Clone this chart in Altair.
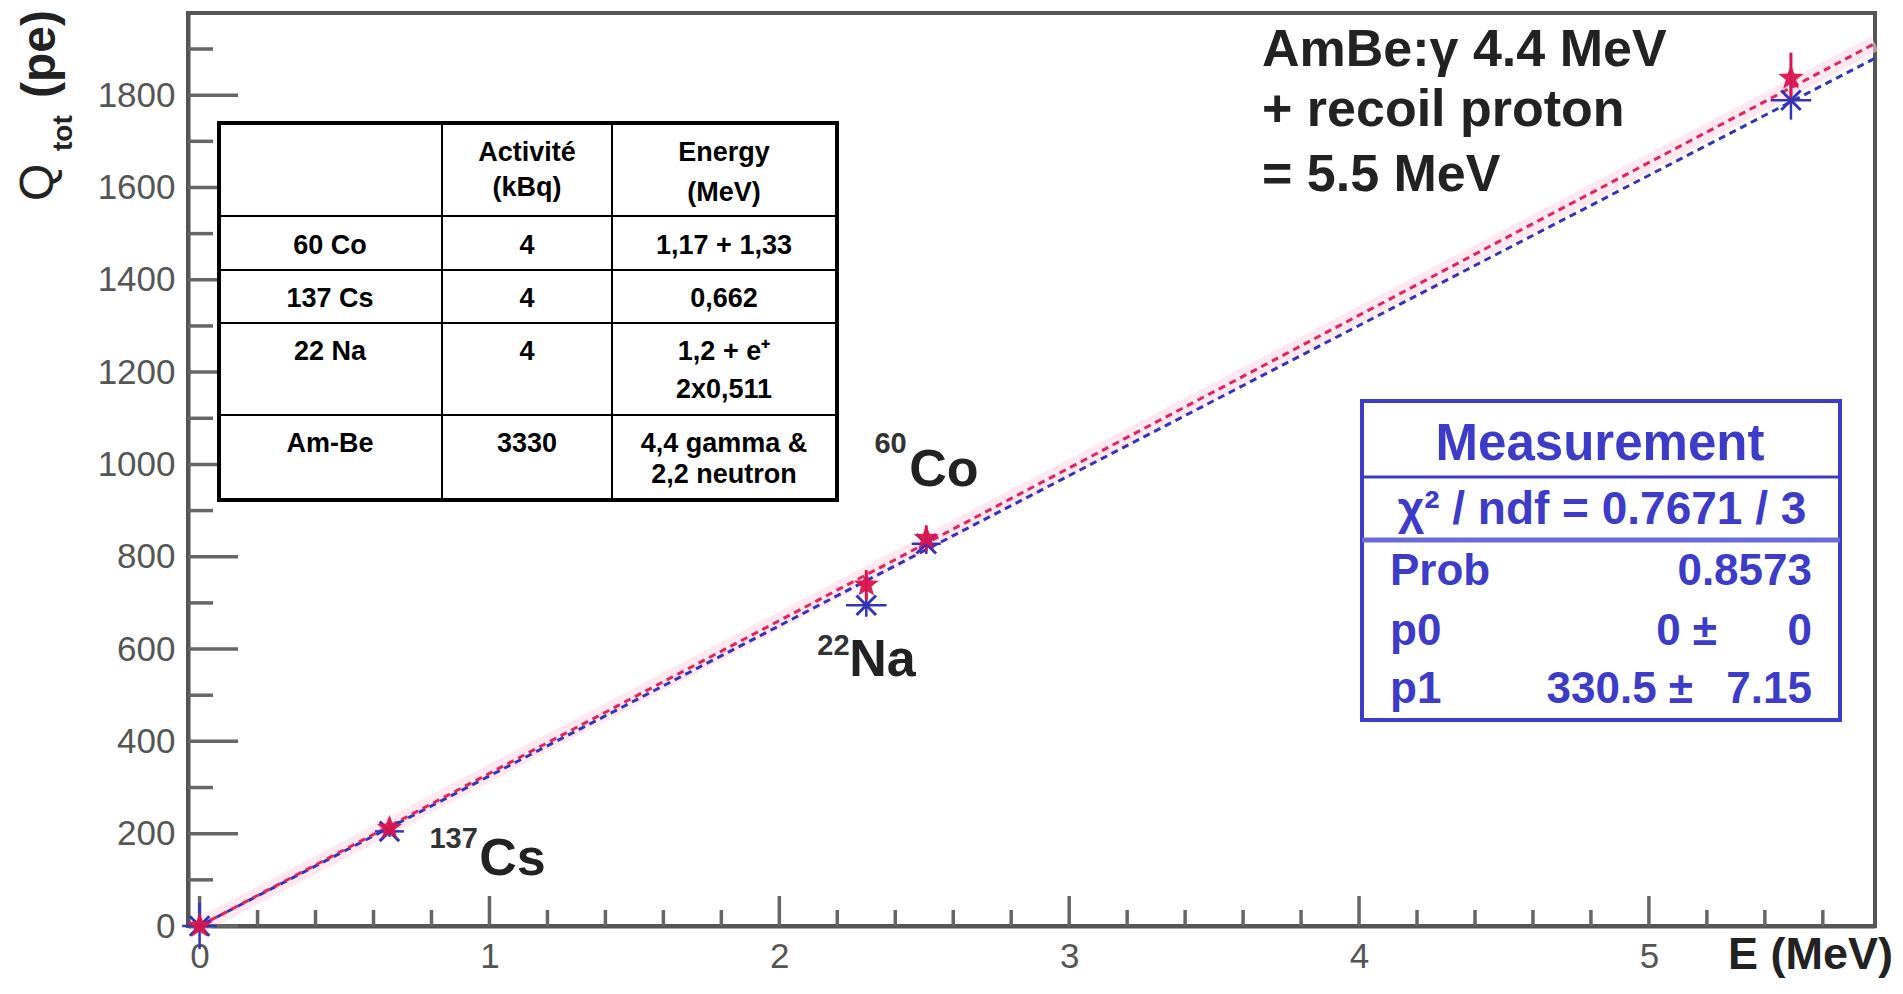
import altair as alt
import pandas as pd

# ---------------- data ----------------
energy_mev = [0.0, 0.655, 2.30, 2.507, 5.49]
q_red = [0, 212, 739, 840, 1837]
q_red_err = [10, 12, 32, 28, 55]
q_blue = [0, 205, 695, 828, 1789]
q_blue_err = [50, 12, 25, 22, 42]
e_blue_err = [0.06, 0.05, 0.07, 0.05, 0.07]

fit_e = [0.0, 5.78]
fit_red_q = [0, 1912]
fit_blue_q = [0, 1880]

x_major = [0, 1, 2, 3, 4, 5]
x_minor = [0.2, 0.4, 0.6, 0.8, 1.2, 1.4, 1.6, 1.8, 2.2, 2.4, 2.6, 2.8,
           3.2, 3.4, 3.6, 3.8, 4.2, 4.4, 4.6, 4.8, 5.2, 5.4, 5.6]
y_major = [0, 200, 400, 600, 800, 1000, 1200, 1400, 1600, 1800]
y_minor = [100, 300, 500, 700, 900, 1100, 1300, 1500, 1700, 1900]

iso_mass = ["137", "22", "60"]
iso_symbol = ["Cs", "Na", "Co"]

table_sources = ["60 Co", "137 Cs", "22 Na", "Am-Be"]
table_activity = ["4", "4", "4", "3330"]
table_energy = [["1,17 + 1,33"], ["0,662"], ["1,2 + e\u207a", "2x0,511"], ["4,4  gamma &", "2,2 neutron"]]
table_head = [["Activit\u00e9", "(kBq)"], ["Energy", "(MeV)"]]

amb_lines = ["AmBe:\u03b3 4.4 MeV", "+ recoil proton", "= 5.5 MeV"]
stat_title = "Measurement"
stat_chi = "\u03c7\u00b2 / ndf = 0.7671 / 3"
stat_names = ["Prob", "p0", "p1"]
stat_values = ["0.8573", "0 \u00b1", "330.5 \u00b1"]
stat_errors = ["", "0", "7.15"]

# ---------------- layout ----------------
FONT = "Liberation Sans"
W, H = 1687, 913
RED = "#d8154f"
BLUE = "#3434b8"
SBLUE = "#3c3cc8"

xs = alt.Scale(domain=[-0.04, 5.78], nice=False, zero=False)
ys = alt.Scale(domain=[0, 1978], nice=False, zero=False)
xaxis = alt.Axis(values=x_major, title=None, grid=False, ticks=False, tickSize=0,
                 labelFontSize=35, labelColor="#555", labelFont=FONT, labelPadding=13,
                 labelFlush=False, domainColor="#555", domainWidth=4, format="d")
yaxis = alt.Axis(values=y_major, title=None, grid=False, ticks=False, tickSize=0,
                 labelFontSize=35, labelColor="#555", labelFont=FONT, labelPadding=13,
                 labelFlush=False, domainColor="#555", domainWidth=4, format="d")

pts = pd.DataFrame({
    "e": energy_mev,
    "qr": q_red,
    "qr_lo": [q - d for q, d in zip(q_red, q_red_err)],
    "qr_hi": [q + d for q, d in zip(q_red, q_red_err)],
    "qb": q_blue,
    "qb_lo": [q - d for q, d in zip(q_blue, q_blue_err)],
    "qb_hi": [q + d for q, d in zip(q_blue, q_blue_err)],
    "eb_lo": [e - d for e, d in zip(energy_mev, e_blue_err)],
    "eb_hi": [e + d for e, d in zip(energy_mev, e_blue_err)],
})
fits = pd.DataFrame({"e": fit_e, "qr": fit_red_q, "qb": fit_blue_q})
one = pd.DataFrame({"k": [0]})

X = lambda f: alt.X(f, type="quantitative", scale=xs, axis=xaxis)
Y = lambda f: alt.Y(f, type="quantitative", scale=ys, axis=yaxis)

layers = []

# faint halo along the red fit
layers.append(alt.Chart(fits).mark_line(color="#ffd6e2", strokeWidth=16, opacity=0.55)
              .encode(x=X("e"), y=Y("qr")))

# inward ticks
layers.append(alt.Chart(pd.DataFrame({"v": y_major})).mark_rule(color="#666", strokeWidth=3.5)
              .encode(y=Y("v"), x=alt.value(0), x2=alt.value(50)))
layers.append(alt.Chart(pd.DataFrame({"v": y_minor})).mark_rule(color="#666", strokeWidth=3.5)
              .encode(y=Y("v"), x=alt.value(0), x2=alt.value(25)))
layers.append(alt.Chart(pd.DataFrame({"v": x_major})).mark_rule(color="#666", strokeWidth=3.5)
              .encode(x=X("v"), y=alt.value(H), y2=alt.value(H - 30)))
layers.append(alt.Chart(pd.DataFrame({"v": x_minor})).mark_rule(color="#666", strokeWidth=3.5)
              .encode(x=X("v"), y=alt.value(H), y2=alt.value(H - 16)))

# fit lines
layers.append(alt.Chart(fits).mark_line(color=BLUE, strokeWidth=3, strokeDash=[7, 5], strokeDashOffset=5)
              .encode(x=X("e"), y=Y("qb")))
layers.append(alt.Chart(fits).mark_line(color="#e0245e", strokeWidth=3, strokeDash=[7, 5])
              .encode(x=X("e"), y=Y("qr")))

# error bars
layers.append(alt.Chart(pts).mark_rule(color=BLUE, strokeWidth=2.5)
              .encode(x=X("e"), y=Y("qb_lo"), y2=alt.Y2("qb_hi")))
layers.append(alt.Chart(pts).mark_rule(color=BLUE, strokeWidth=2.5)
              .encode(x=X("eb_lo"), x2=alt.X2("eb_hi"), y=Y("qb")))
layers.append(alt.Chart(pts).mark_rule(color=RED, strokeWidth=3)
              .encode(x=X("e"), y=Y("qr_lo"), y2=alt.Y2("qr_hi")))

# markers
layers.append(alt.Chart(pts).mark_point(shape="M-1,-1L1,1M-1,1L1,-1", filled=False, size=380,
                                         strokeWidth=3, color=BLUE, opacity=1)
              .encode(x=X("e"), y=Y("qb")))
star = "M0,-1L0.25,-0.35L0.95,-0.31L0.4,0.12L0.59,0.81L0,0.42L-0.59,0.81L-0.4,0.12L-0.95,-0.31L-0.25,-0.35Z"
layers.append(alt.Chart(pts).mark_point(shape=star, filled=True, size=700, color=RED, opacity=0.95)
              .encode(x=X("e"), y=Y("qr")))

# isotope labels (data coordinates)
iso_df = pd.DataFrame({"e": [0.965, 2.241, 2.448], "q": [110, 541, 953], "t": iso_symbol})
sup_df = pd.DataFrame({"e": [0.793, 2.131, 2.328], "q": [169, 587, 1024], "t": iso_mass})
layers.append(alt.Chart(iso_df).mark_text(align="left", baseline="alphabetic", fontSize=52,
                                          fontWeight="bold", font=FONT, color="#222")
              .encode(x=X("e"), y=Y("q"), text="t:N"))
layers.append(alt.Chart(sup_df).mark_text(align="left", baseline="alphabetic", fontSize=29,
                                          fontWeight="bold", font=FONT, color="#333")
              .encode(x=X("e"), y=Y("q"), text="t:N"))


def txt(s, x, y, size, color="#222", weight="bold", align="left", angle=None):
    kw = dict(align=align, baseline="alphabetic", fontSize=size, fontWeight=weight,
              color=color, font=FONT)
    if angle is not None:
        kw["angle"] = angle
    return alt.Chart(one).mark_text(**kw).encode(x=alt.value(x), y=alt.value(y), text=alt.value(s))


def hline(x1, x2, y, w, color):
    return alt.Chart(one).mark_rule(color=color, strokeWidth=w).encode(
        x=alt.value(x1), x2=alt.value(x2), y=alt.value(y))


def vline(x, y1, y2, w, color):
    return alt.Chart(one).mark_rule(color=color, strokeWidth=w).encode(
        x=alt.value(x), y=alt.value(y1), y2=alt.value(y2))


def box(x1, x2, y1, y2, stroke, w):
    return alt.Chart(one).mark_rect(fill="white", stroke=stroke, strokeWidth=w).encode(
        x=alt.value(x1), x2=alt.value(x2), y=alt.value(y1), y2=alt.value(y2))


# ---- source table ----
TL, TR, TT, TB = 31, 649, 110, 487
C1, C2 = 254, 424
rows_y = [203, 257, 310, 402]
layers.append(box(TL, TR, TT, TB, "black", 4))
for cx in (C1, C2):
    layers.append(vline(cx, TT, TB, 2, "black"))
for ry in rows_y:
    layers.append(hline(TL, TR, ry, 2, "black"))
col_c = [142, 339, 536]
TF = 27
layers.append(txt(table_head[0][0], col_c[1], 148, TF, "black", align="center"))
layers.append(txt(table_head[0][1], col_c[1], 183, TF, "black", align="center"))
layers.append(txt(table_head[1][0], col_c[2], 148, TF, "black", align="center"))
layers.append(txt(table_head[1][1], col_c[2], 188, TF, "black", align="center"))
row_base = [241, 294, 347, 439]
row_second = [None, None, 385, 470]
for i in range(4):
    layers.append(txt(table_sources[i], col_c[0], row_base[i], TF, "black", align="center"))
    layers.append(txt(table_activity[i], col_c[1], row_base[i], TF, "black", align="center"))
    layers.append(txt(table_energy[i][0], col_c[2], row_base[i], TF, "black", align="center"))
    if len(table_energy[i]) > 1:
        layers.append(txt(table_energy[i][1], col_c[2], row_second[i], TF, "black", align="center"))

# ---- stats box ----
SL, SR, ST, SB = 1174, 1652, 388, 707
layers.append(box(SL, SR, ST, SB, SBLUE, 4))
layers.append(hline(SL, SR, 464, 3, SBLUE))
layers.append(hline(SL, SR, 527, 5, "#6a6ad8"))
layers.append(txt(stat_title, 1412, 447, 51, SBLUE, align="center"))
layers.append(txt(stat_chi, 1414, 511, 46, SBLUE, align="center"))
stat_base = [572, 632, 690]
val_right = [1624, 1529, 1505]
for i in range(3):
    layers.append(txt(stat_names[i], 1202, stat_base[i], 44, SBLUE))
    layers.append(txt(stat_values[i], val_right[i], stat_base[i], 44, SBLUE, align="right"))
    if stat_errors[i]:
        layers.append(txt(stat_errors[i], 1624, stat_base[i], 44, SBLUE, align="right"))

# ---- AmBe note ----
amb_base = [53, 113, 178]
for s, b in zip(amb_lines, amb_base):
    layers.append(txt(s, 1074, b, 52, "#222"))

# ---- axis titles ----
layers.append(txt("Q", -135, 188, 48, "#222", weight="normal", angle=270))
layers.append(txt("tot", -116, 138, 28, "#222", angle=270))
layers.append(txt("(pe)", -133, 85, 48, "#222", angle=270))
layers.append(txt("E (MeV)", 1705, 956, 45, "#222", align="right"))

chart = alt.layer(*layers).properties(
    width=W, height=H,
    padding={"left": 180, "top": 5, "right": 20, "bottom": 60},
    autosize=alt.AutoSizeParams(type="none"),
    background="white",
).configure_view(stroke="#555", strokeWidth=4)

chart.save("out.html", embed_options={"renderer": "svg", "actions": False})
